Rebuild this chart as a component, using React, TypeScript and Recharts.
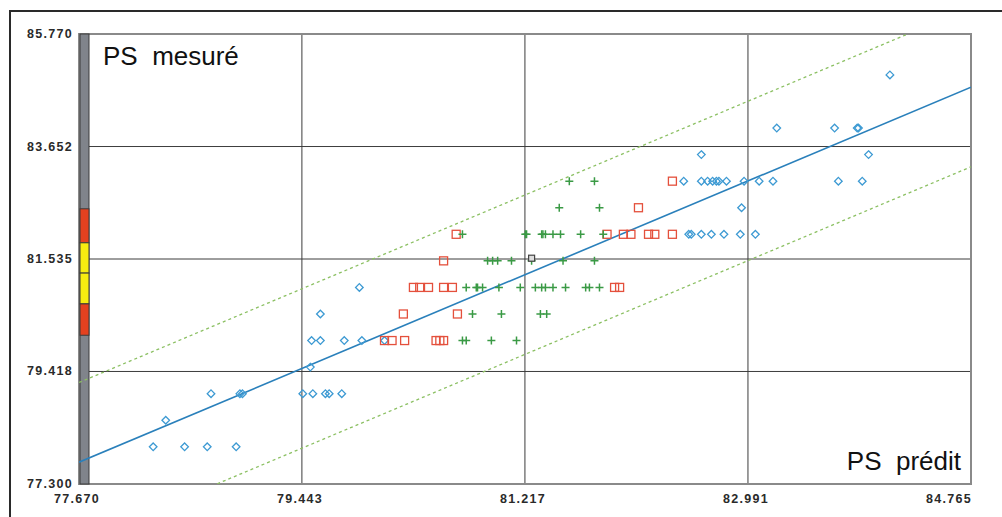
import React from 'react';
import {
  ScatterChart,
  Scatter,
  XAxis,
  YAxis,
  CartesianGrid,
  ReferenceLine,
  ReferenceArea
} from 'recharts';

const X_TICKS = [77.67, 79.443, 81.217, 82.991, 84.765];
const Y_TICKS = [77.3, 79.418, 81.535, 83.652, 85.77];

// measured PS sits on a 0.5 grid, each row lists the predicted values
const BLUE_ROWS = [
  { y: 78.0, xs: [78.26, 78.51, 78.69, 78.92] },
  { y: 78.5, xs: [78.36] },
  { y: 79.0, xs: [78.72, 78.95, 78.97, 79.45, 79.53, 79.63, 79.66, 79.76] },
  { y: 79.5, xs: [79.51] },
  { y: 80.0, xs: [79.52, 79.59, 79.78, 79.92, 80.1] },
  { y: 80.5, xs: [79.59] },
  { y: 81.0, xs: [79.9] },
  { y: 82.0, xs: [82.52, 82.54, 82.62, 82.7, 82.8, 82.93, 83.05] },
  { y: 82.5, xs: [82.94] },
  { y: 83.0, xs: [82.48, 82.62, 82.67, 82.71, 82.74, 82.76, 82.82, 82.96, 83.08, 83.19, 83.71, 83.9] },
  { y: 83.5, xs: [82.62, 83.95] },
  { y: 84.0, xs: [83.22, 83.68, 83.86, 83.87] },
  { y: 85.0, xs: [84.12] }
];

const RED_ROWS = [
  { y: 80.0, xs: [80.1, 80.16, 80.26, 80.51, 80.54, 80.57] },
  { y: 80.5, xs: [80.25, 80.68] },
  { y: 81.0, xs: [80.33, 80.38, 80.45, 80.57, 80.64, 81.93, 81.97] },
  { y: 81.5, xs: [80.57] },
  { y: 82.0, xs: [80.67, 81.87, 82.0, 82.06, 82.2, 82.25, 82.39] },
  { y: 82.5, xs: [82.12] },
  { y: 83.0, xs: [82.39] }
];

const GREEN_ROWS = [
  { y: 80.0, xs: [80.72, 80.75, 80.95, 81.15] },
  { y: 80.5, xs: [80.8, 81.03, 81.34, 81.39] },
  { y: 81.0, xs: [80.75, 80.83, 80.84, 80.88, 81.01, 81.18, 81.3, 81.35, 81.38, 81.44, 81.54, 81.7, 81.73, 81.81] },
  { y: 81.5, xs: [80.92, 80.96, 81.0, 81.11, 81.27, 81.52, 81.77] },
  { y: 82.0, xs: [80.72, 81.22, 81.23, 81.35, 81.36, 81.38, 81.44, 81.5, 81.66, 81.84] },
  { y: 82.5, xs: [81.49, 81.81] },
  { y: 83.0, xs: [81.57, 81.77] }
];

const CURRENT_POINT = [{ x: 81.27, y: 81.55 }];

// regression line and its +/- 1.5 band
const FIT_LINE = [{ x: 77.67, y: 77.71 }, { x: 84.765, y: 84.77 }];
const UPPER_LINE = [{ x: 77.67, y: 79.21 }, { x: 84.765, y: 86.27 }];
const LOWER_LINE = [{ x: 77.67, y: 76.21 }, { x: 84.765, y: 83.27 }];

// colour bar limits on the measured axis
const RED_HIGH = [81.84, 82.48];
const YELLOW_HIGH = [81.27, 81.84];
const YELLOW_LOW = [80.69, 81.27];
const RED_LOW = [80.1, 80.69];

const toPoints = (rows: { y: number; xs: number[] }[]) =>
  rows.flatMap((r) => r.xs.map((x) => ({ x, y: r.y })));

const blueData = toPoints(BLUE_ROWS);
const redData = toPoints(RED_ROWS);
const greenData = toPoints(GREEN_ROWS);

const FONT = '"Liberation Sans", Arial, sans-serif';

const Diamond = ({ cx, cy }: any) => (
  <path
    d={`M${cx},${cy - 3.8}L${cx + 3.8},${cy}L${cx},${cy + 3.8}L${cx - 3.8},${cy}Z`}
    fill="none"
    stroke="#3d9ad3"
    strokeWidth={1.3}
  />
);

const Square = ({ cx, cy }: any) => (
  <rect x={cx - 4} y={cy - 4} width={8} height={8} fill="none" stroke="#e4503c" strokeWidth={1.3} />
);

const Plus = ({ cx, cy }: any) => (
  <path d={`M${cx - 4},${cy}H${cx + 4}M${cx},${cy - 4}V${cy + 4}`} stroke="#3a9a45" strokeWidth={1.5} />
);

const Current = ({ cx, cy }: any) => (
  <rect x={cx - 3} y={cy - 3} width={6} height={6} fill="#ddd" stroke="#444" strokeWidth={1.2} />
);

const barShape = (fill: string) => (p: any) => (
  <rect x={p.x + 1} y={p.y} width={9} height={p.height} fill={fill} stroke="#3a3a3a" strokeWidth={1} />
);

const XTick = ({ x, y, payload, index }: any) => {
  const last = index === X_TICKS.length - 1;
  return (
    <text
      x={last ? x + 1 : x - 2}
      y={y}
      dy={11}
      textAnchor={last ? 'end' : 'middle'}
      fontFamily={FONT}
      fontWeight="bold"
      fontSize={12.5}
      letterSpacing={1.3}
      fill="#2a2a2a"
    >
      {payload.value.toFixed(3)}
    </text>
  );
};

const YTick = ({ x, y, payload }: any) => (
  <text
    x={x + 2}
    y={y}
    dy={4}
    textAnchor="end"
    fontFamily={FONT}
    fontWeight="bold"
    fontSize={12.5}
    letterSpacing={1.3}
    fill="#2a2a2a"
  >
    {payload.value.toFixed(3)}
  </text>
);

const App = () => {
  return (
    <div style={{ position: 'absolute', left: 0, top: 0, width: 1002, height: 517, background: '#fff', overflow: 'hidden' }}>
      {/* outer frame, only left and top edges are visible */}
      <div
        style={{
          position: 'absolute',
          left: 9,
          top: 10,
          width: 1100,
          height: 600,
          borderLeft: '2px solid #2a2a2a',
          borderTop: '2px solid #2a2a2a'
        }}
      />
      <div style={{ position: 'absolute', left: 0, top: 0 }}>
        <ScatterChart width={1002} height={517} margin={{ top: 34, right: 31, bottom: 3, left: 9 }}>
          <CartesianGrid stroke="#3c3c3c" strokeWidth={1} />
          <XAxis
            type="number"
            dataKey="x"
            domain={[77.67, 84.765]}
            ticks={X_TICKS}
            allowDataOverflow
            axisLine={false}
            tickLine={false}
            height={30}
            tick={<XTick />}
            interval={0}
          />
          <YAxis
            type="number"
            dataKey="y"
            domain={[77.3, 85.77]}
            ticks={Y_TICKS}
            allowDataOverflow
            axisLine={false}
            tickLine={false}
            width={70}
            tick={<YTick />}
            interval={0}
          />
          <ReferenceArea
            x1={77.67}
            x2={84.765}
            y1={77.3}
            y2={85.77}
            fill="none"
            stroke="#8a8a8a"
            strokeWidth={2}
          />
          <ReferenceLine segment={UPPER_LINE} stroke="#8cc063" strokeWidth={1.3} strokeDasharray="3 3" ifOverflow="hidden" />
          <ReferenceLine segment={LOWER_LINE} stroke="#8cc063" strokeWidth={1.3} strokeDasharray="3 3" ifOverflow="hidden" />
          <ReferenceLine segment={FIT_LINE} stroke="#2a80bb" strokeWidth={1.6} ifOverflow="hidden" />
          <Scatter data={blueData} shape={<Diamond />} isAnimationActive={false} />
          <Scatter data={redData} shape={<Square />} isAnimationActive={false} />
          <Scatter data={greenData} shape={<Plus />} isAnimationActive={false} />
          <Scatter data={CURRENT_POINT} shape={<Current />} isAnimationActive={false} />
          <ReferenceArea y1={77.3} y2={85.77} shape={barShape('#80848b')} />
          <ReferenceArea y1={RED_HIGH[0]} y2={RED_HIGH[1]} shape={barShape('#e4411f')} />
          <ReferenceArea y1={YELLOW_HIGH[0]} y2={YELLOW_HIGH[1]} shape={barShape('#f7ec10')} />
          <ReferenceArea y1={YELLOW_LOW[0]} y2={YELLOW_LOW[1]} shape={barShape('#f7ec10')} />
          <ReferenceArea y1={RED_LOW[0]} y2={RED_LOW[1]} shape={barShape('#e4411f')} />
        </ScatterChart>
      </div>
      <div style={{ position: 'absolute', left: 103, top: 43, fontFamily: FONT, fontSize: 26, color: '#111', whiteSpace: 'pre', lineHeight: 1 }}>
        {'PS  mesuré'}
      </div>
      <div style={{ position: 'absolute', right: 1002 - 961, top: 448, fontFamily: FONT, fontSize: 26, color: '#111', whiteSpace: 'pre', lineHeight: 1 }}>
        {'PS  prédit'}
      </div>
    </div>
  );
};

export default App;
